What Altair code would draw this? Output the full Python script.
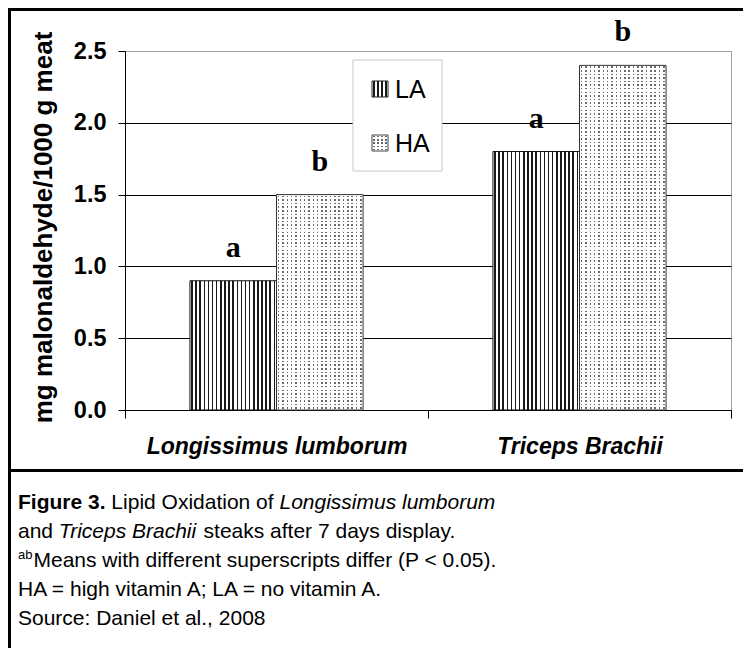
import altair as alt
import pandas as pd

# ---------------- data ----------------
categories = ["Longissimus lumborum", "Triceps Brachii"]
series = ["LA", "HA"]
la_values = [0.9, 1.8]
ha_values = [1.5, 2.4]
la_sig = ["a", "a"]
ha_sig = ["b", "b"]
y_ticks = [0.0, 0.5, 1.0, 1.5, 2.0, 2.5]
y_title = "mg malonaldehyde/1000 g meat"

caption_bold = "Figure 3."
caption_l1a = "Lipid Oxidation of"
caption_l1b = "Longissimus lumborum"
caption_l2a = "and"
caption_l2b = "Triceps Brachii"
caption_l2c = "steaks after 7 days display."
caption_sup = "ab"
caption_l3 = "Means with different superscripts differ (P < 0.05)."
caption_l4 = "HA = high vitamin A; LA = no vitamin A."
caption_l5 = "Source: Daniel et al., 2008"

rows = []
for c, v, s in zip(categories, la_values, la_sig):
    rows.append({"category": c, "series": "LA", "value": v, "sig": s})
for c, v, s in zip(categories, ha_values, ha_sig):
    rows.append({"category": c, "series": "HA", "value": v, "sig": s})
df = pd.DataFrame(rows)
one = pd.DataFrame({"k": [0]})

W, H = 606, 359
YMAX = 2.5
FONT = "Liberation Sans"

# ---------------- pattern helpers ----------------
def stripes(n, duty, dark, light, vertical_lines=True, start=0.3):
    stops = []
    for i in range(n):
        a = (i + start) / n
        b = (i + start + duty) / n
        stops += [
            {"offset": round(i / n, 5), "color": light},
            {"offset": round(a, 5), "color": light},
            {"offset": round(a, 5), "color": dark},
            {"offset": round(min(b, 1.0), 5), "color": dark},
            {"offset": round(min(b, 1.0), 5), "color": light},
            {"offset": round((i + 1) / n, 5), "color": light},
        ]
    if vertical_lines:
        return {"gradient": "linear", "x1": 0, "y1": 0, "x2": 1, "y2": 0, "stops": stops}
    return {"gradient": "linear", "x1": 0, "y1": 0, "x2": 0, "y2": 1, "stops": stops}

LA_FILL = stripes(21, 0.38, "#1a1a1a", "#ffffff", True)
DOT = "#6a6a6a"
COL_MASK = stripes(20, 0.36, "rgba(255,255,255,0)", "#ffffff", True, start=0.32)

# ---------------- encodings ----------------
x_enc = alt.X(
    "category:N",
    scale=alt.Scale(domain=categories, paddingInner=0, paddingOuter=0),
    axis=alt.Axis(
        title=None, labelAngle=0, labelFont=FONT, labelFontSize=23,
        labelFontWeight="bold", labelFontStyle="italic", labelColor="black",
        domainColor="black", tickColor="black", tickSize=8, tickBand="extent",
        labelPadding=17, labelBaseline="top", labelLimit=0,
    ),
)
xo_enc = alt.XOffset(
    "series:N", scale=alt.Scale(domain=series, paddingInner=0, paddingOuter=0.75)
)
y_enc = alt.Y(
    "value:Q",
    scale=alt.Scale(domain=[0, YMAX], nice=False, zero=True),
    axis=alt.Axis(
        title=y_title, values=y_ticks, format=".1f", labelFont=FONT,
        labelFontSize=23.5, labelFontWeight="bold", labelColor="black",
        labelPadding=12, tickSize=7, tickColor="black", domainColor="black",
        grid=True,
        gridColor={"condition": {"test": "datum.value >= 2.5", "value": "#a0a0a0"}, "value": "#000000"},
        titleFont=FONT, titleFontSize=26, titleFontWeight="bold", titleColor="black",
        titleAngle=270, titleX=-82, titleY=176, titleAlign="center", titleBaseline="middle",
    ),
)

base = alt.Chart(df)

la_bars = base.transform_filter(alt.datum.series == "LA").mark_bar(
    fill=LA_FILL, stroke="#111", strokeWidth=1
).encode(x=x_enc, xOffset=xo_enc, y=y_enc)

ha_layers = []
for c, v in zip(categories, ha_values):
    nrows = max(1, round(v / YMAX * H / 3.6))
    row_fill = stripes(nrows, 0.42, DOT, "#ffffff", False)
    sub = base.transform_filter((alt.datum.series == "HA") & (alt.datum.category == c))
    ha_layers.append(sub.mark_bar(fill=row_fill, strokeWidth=0).encode(x=x_enc, xOffset=xo_enc, y=y_enc))
    ha_layers.append(sub.mark_bar(fill=COL_MASK, stroke="#333", strokeWidth=1).encode(x=x_enc, xOffset=xo_enc, y=y_enc))

sig_text = base.mark_text(
    font="Liberation Serif", fontWeight="bold", fontSize=30, baseline="alphabetic",
    dy=-24, color="black",
).encode(x=x_enc, xOffset=xo_enc, y=y_enc, text="sig:N")

# ---------------- legend (drawn manually to show patterns) ----------------
leg = alt.Chart(one)
legend_box = leg.mark_rect(fill="white", stroke="#c8c8c8", strokeWidth=1).encode(
    x=alt.value(228), x2=alt.value(317), y=alt.value(9), y2=alt.value(120)
)
leg_la = leg.mark_rect(fill=stripes(4, 0.38, "#1a1a1a", "#ffffff", True), stroke="#222", strokeWidth=1).encode(
    x=alt.value(247), x2=alt.value(263), y=alt.value(30), y2=alt.value(46)
)
leg_ha1 = leg.mark_rect(fill=stripes(5, 0.42, DOT, "#ffffff", False), strokeWidth=0).encode(
    x=alt.value(247), x2=alt.value(263), y=alt.value(84), y2=alt.value(100)
)
leg_ha2 = leg.mark_rect(fill=stripes(4, 0.36, "rgba(255,255,255,0)", "#ffffff", True, 0.32), stroke="#444", strokeWidth=1).encode(
    x=alt.value(247), x2=alt.value(263), y=alt.value(84), y2=alt.value(100)
)
leg_t1 = leg.mark_text(text=series[0], font=FONT, fontSize=25, align="left", baseline="middle", color="black").encode(
    x=alt.value(270), y=alt.value(39)
)
leg_t2 = leg.mark_text(text=series[1], font=FONT, fontSize=25, align="left", baseline="middle", color="black").encode(
    x=alt.value(270), y=alt.value(93)
)

# ---------------- caption ----------------
CS = 21
X0 = -107
em = CS
def ctext(t, x, y, weight="normal", style="normal", size=CS):
    return leg.mark_text(
        text=t, font=FONT, fontSize=size, fontWeight=weight, fontStyle=style,
        align="left", baseline="alphabetic", color="black",
    ).encode(x=alt.value(x), y=alt.value(y))

L1, L2, L3, L4, L5 = 458, 487, 516, 545, 574
sp = 0.278 * em
x_l1a = X0 + 4.168 * em + sp
x_l1b = x_l1a + 7.726 * em + sp
x_l2b = X0 + 1.668 * em + sp
x_l2c = x_l2b + 6.612 * em + sp
sup_size = 13
x_l3 = X0 + 1.112 * sup_size + 1

caption = [
    ctext(caption_bold, X0, L1, weight="bold"),
    ctext(caption_l1a, x_l1a, L1),
    ctext(caption_l1b, x_l1b, L1, style="italic"),
    ctext(caption_l2a, X0, L2),
    ctext(caption_l2b, x_l2b, L2, style="italic"),
    ctext(caption_l2c, x_l2c, L2),
    ctext(caption_sup, X0, L3 - 8, size=sup_size),
    ctext(caption_l3, x_l3, L3),
    ctext(caption_l4, X0, L4),
    ctext(caption_l5, X0, L5),
]

# ---------------- frame ----------------
frame_top = leg.mark_rule(color="black", strokeWidth=3).encode(
    x=alt.value(-117), x2=alt.value(620), y=alt.value(-41.5)
)
frame_left = leg.mark_rule(color="black", strokeWidth=3).encode(
    x=alt.value(-115.5), y=alt.value(-43), y2=alt.value(600)
)
frame_sep = leg.mark_rule(color="black", strokeWidth=3).encode(
    x=alt.value(-117), x2=alt.value(620), y=alt.value(419.5)
)

chart = alt.layer(
    la_bars, *ha_layers, sig_text,
    legend_box, leg_la, leg_ha1, leg_ha2, leg_t1, leg_t2,
    *caption, frame_top, frame_left, frame_sep,
).properties(
    width=W, height=H,
    padding={"left": 117, "top": 43, "right": 12, "bottom": 238},
    autosize=alt.AutoSizeParams(type="none"),
    background="white",
).configure_view(stroke="#a0a0a0", strokeWidth=1)

chart.save("out.html", embed_options={"renderer": "svg", "actions": False})
